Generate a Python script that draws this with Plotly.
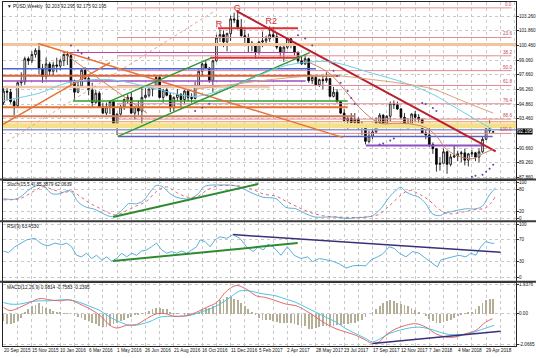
import numpy as np
import pandas as pd
import plotly.graph_objects as go

# ---------------- DATA ----------------
start_date = "2015-09-20"
n_weeks = 139

open_ = [95.0, 96.1, 96.0, 95.1, 94.7, 96.9, 97.0, 99.2, 99.0, 99.6,
         100.0, 98.3, 97.5, 98.7, 98.0, 98.6, 98.5, 99.0, 99.6, 99.5,
         97.0, 96.0, 96.6, 98.1, 97.3, 96.2, 95.0, 95.9, 94.6, 94.0,
         94.6, 95.1, 93.0, 93.9, 94.6, 95.3, 95.5, 94.0, 94.6, 94.2,
         95.5, 95.7, 96.3, 96.6, 97.4, 95.5, 96.2, 95.7, 94.5, 95.5,
         95.8, 95.3, 96.1, 95.5, 95.4, 96.6, 98.0, 98.7, 98.3, 97.1,
         99.0, 101.2, 101.5, 100.8, 101.6, 103.0, 102.9, 102.2, 101.4, 101.2,
         100.7, 100.6, 99.8, 100.8, 100.9, 101.1, 101.5, 101.3, 100.3, 99.8,
         100.3, 101.1, 100.5, 99.8, 99.0, 98.7, 99.2, 97.1, 97.4, 96.7,
         97.2, 97.1, 97.3, 95.6, 96.0, 95.1, 94.0, 93.3, 93.5, 93.1,
         93.4, 92.7, 92.8, 91.3, 91.8, 92.2, 93.1, 93.8, 93.0, 93.7,
         94.9, 94.8, 94.4, 93.6, 92.8, 92.9, 93.9, 93.6, 93.4, 92.1,
         91.9, 91.0, 90.6, 89.1, 89.2, 90.3, 89.1, 89.8, 89.9, 90.1,
         90.2, 89.5, 90.1, 90.2, 89.8, 90.3, 91.5, 92.5, 92.203]
high_ = [96.4, 96.6, 96.3, 95.3, 97.0, 97.9, 99.4, 99.4, 99.9, 100.2,
         100.5, 98.7, 99.3, 98.9, 98.9, 99.3, 99.2, 99.6, 99.9, 99.8,
         97.2, 97.1, 98.2, 98.4, 97.7, 96.9, 96.2, 96.1, 95.0, 95.0,
         95.2, 95.2, 94.0, 94.8, 95.4, 95.8, 96.0, 94.6, 95.2, 96.7,
         96.4, 96.6, 96.6, 97.6, 97.6, 96.3, 96.4, 96.0, 95.6, 96.3,
         95.9, 96.2, 96.2, 95.9, 97.0, 98.2, 98.8, 99.1, 98.4, 99.1,
         101.5, 102.0, 101.9, 101.7, 103.3, 103.6, 103.8, 103.0, 102.0, 101.6,
         100.9, 100.6, 100.9, 101.8, 101.4, 102.3, 102.2, 101.7, 100.4, 100.6,
         101.2, 101.2, 100.7, 99.9, 99.4, 99.6, 99.3, 97.6, 97.6, 97.3,
         97.6, 97.9, 97.3, 96.5, 96.3, 95.2, 94.4, 93.6, 94.0, 94.0,
         93.6, 93.2, 92.9, 92.3, 92.5, 93.6, 94.0, 93.9, 93.8, 95.1,
         95.2, 95.1, 94.5, 94.0, 93.5, 94.0, 94.2, 93.9, 93.5, 92.4,
         92.6, 91.2, 90.6, 89.8, 90.6, 90.4, 90.1, 90.9, 90.4, 90.4,
         90.6, 90.2, 90.5, 90.3, 90.6, 91.7, 92.8, 93.3, 92.295]
low_ = [94.8, 95.2, 94.9, 93.8, 94.6, 96.6, 96.7, 98.6, 98.8, 99.3,
        97.7, 96.9, 97.2, 97.6, 97.6, 97.9, 98.1, 98.5, 98.6, 96.6,
        95.2, 95.9, 96.5, 97.1, 95.7, 94.6, 94.9, 94.5, 93.9, 93.8,
        93.9, 92.9, 91.9, 93.6, 94.3, 94.9, 93.9, 93.4, 93.8, 93.0,
        95.4, 95.5, 95.6, 96.5, 95.4, 95.0, 95.6, 94.1, 94.2, 95.2,
        94.4, 94.9, 95.1, 95.0, 95.3, 96.5, 97.5, 98.2, 96.9, 96.0,
        98.9, 100.8, 100.3, 99.9, 100.9, 102.6, 102.0, 101.3, 100.6, 99.8,
        99.9, 99.2, 99.6, 100.3, 100.5, 100.8, 101.2, 100.1, 99.4, 98.9,
        100.1, 100.2, 99.5, 98.8, 98.6, 98.6, 96.9, 96.8, 96.6, 96.5,
        96.3, 96.9, 95.5, 95.5, 95.0, 93.9, 93.2, 92.5, 93.0, 92.8,
        92.5, 91.9, 91.0, 91.1, 91.5, 92.1, 92.8, 92.8, 92.8, 93.2,
        94.4, 94.3, 93.4, 92.6, 92.5, 92.8, 93.2, 93.1, 92.0, 91.5,
        90.8, 90.1, 88.4, 88.5, 89.2, 88.2, 88.9, 89.7, 89.4, 89.3,
        89.0, 88.9, 89.8, 89.4, 89.3, 90.2, 91.4, 92.1, 92.175]
close_ = [96.1, 96.0, 95.1, 94.7, 96.9, 97.0, 99.2, 99.0, 99.6, 100.0,
          98.3, 97.5, 98.7, 98.0, 98.6, 98.5, 99.0, 99.6, 99.5, 97.0,
          96.0, 96.6, 98.1, 97.3, 96.2, 95.0, 95.9, 94.6, 94.0, 94.6,
          95.1, 93.0, 93.9, 94.6, 95.3, 95.5, 94.0, 94.6, 94.2, 95.5,
          95.7, 96.3, 96.6, 97.4, 95.5, 96.2, 95.7, 94.5, 95.5, 95.8,
          95.3, 96.1, 95.5, 95.4, 96.6, 98.0, 98.7, 98.3, 97.1, 99.0,
          101.2, 101.5, 100.8, 101.6, 103.0, 102.9, 102.2, 101.4, 101.2, 100.7,
          100.6, 99.8, 100.8, 100.9, 101.1, 101.5, 101.3, 100.3, 99.8, 100.3,
          101.1, 100.5, 99.8, 99.0, 98.7, 99.2, 97.1, 97.4, 96.7, 97.2,
          97.1, 97.3, 95.6, 96.0, 95.1, 94.0, 93.3, 93.5, 93.1, 93.4,
          92.7, 92.8, 91.3, 91.8, 92.2, 93.1, 93.8, 93.0, 93.7, 94.9,
          94.8, 94.4, 93.6, 92.8, 92.9, 93.9, 93.6, 93.4, 92.1, 91.9,
          91.0, 90.6, 89.1, 89.2, 90.3, 89.1, 89.8, 89.9, 90.1, 90.2,
          89.5, 90.1, 90.2, 89.8, 90.3, 91.5, 92.5, 92.3, 92.195]

# moving averages on price chart
ma_cyan_dates = ["2015-09-20", "2015-11-29", "2016-01-24", "2016-04-17", "2016-07-10",
                 "2016-10-02", "2016-12-25", "2017-03-19", "2017-04-30", "2017-06-25",
                 "2017-09-17", "2017-11-19", "2018-01-14", "2018-02-25", "2018-04-01",
                 "2018-05-13"]
ma_cyan_vals = [95.2, 95.9, 96.9, 97.2, 96.4, 95.6, 96.8, 98.4, 98.8, 98.9,
                97.8, 96.9, 95.8, 94.6, 93.6, 92.4]
ma_tan_dates = ["2016-10-02", "2016-12-25", "2017-03-19", "2017-06-25", "2017-09-17",
                "2017-11-19", "2018-01-14", "2018-02-25", "2018-04-01", "2018-05-13"]
ma_tan_vals = [96.3, 96.8, 97.3, 97.6, 97.2, 96.8, 96.3, 95.5, 94.8, 94.0]
ma_mid_w = [86.3, 92.0, 96.8, 101.3, 106.1, 110.8, 115.4, 119.3, 122.1, 124.9,
            128.6, 132.3, 135.1, 137.9]
ma_mid_vals = [98.82, 97.76, 95.93, 94.19, 93.03, 93.03, 92.93, 92.55, 91.77, 90.52,
               89.84, 89.65, 90.13, 90.52]

# Parabolic SAR dots (week index, price)
sar_w = [19, 21, 22, 24, 54, 56, 58, 83, 85, 87, 93, 94, 95, 97, 98, 99,
         106, 107, 109, 110, 118, 119, 121, 122, 132, 133, 135, 136, 137, 138]
sar_p = [100.46, 99.98, 99.69, 99.30, 94.2, 94.5, 94.9, 101.43, 101.14, 100.46,
         98.05, 97.57, 96.89, 96.12, 95.44, 94.86, 91.0, 91.1, 91.39, 91.58,
         94.96, 94.86, 94.48, 94.19, 87.91, 88.01, 88.11, 88.40, 88.68, 89.07]

# Fibonacci retracement
fib_high = 104.06
fib_low = 92.06
fib_ratios = [0.0, 23.6, 38.2, 50.0, 61.8, 76.4, 88.6, 100.0]
fib_start = "2016-05-01"
fib_end = "2018-06-18"

# horizontal support / resistance lines
hl_price = [100.56, 99.79, 99.30, 102.10, 98.24, 97.57, 97.08, 96.50,
            95.15, 94.57, 93.70, 93.17, 92.79, 92.40, 91.77, 90.90]
hl_start = ["2015-09-19", "2016-01-15", "2016-11-01", "2016-11-16", "2015-09-19",
            "2015-09-19", "2015-09-19", "2015-09-19", "2016-02-04", "2015-09-19",
            "2015-09-19", "2015-09-19", "2015-09-19", "2015-09-19", "2016-05-03",
            "2017-09-04"]
hl_end = ["2018-06-27", "2017-04-26", "2017-04-26", "2017-04-23", "2017-05-28",
          "2017-07-15", "2017-05-08", "2017-02-26", "2017-07-30", "2017-07-30",
          "2017-08-13", "2018-06-27", "2018-06-27", "2018-06-27", "2018-05-12",
          "2018-04-23"]

# trend lines (date, price pairs)
tl_d0 = ["2016-12-23", "2015-11-27", "2015-09-19", "2016-01-15", "2016-05-03",
         "2016-04-17", "2015-09-27"]
tl_p0 = [103.74, 100.65, 92.93, 99.79, 91.77, 95.15, 91.29]
tl_d1 = ["2018-05-18", "2017-07-20", "2016-04-17", "2016-06-29", "2017-05-16",
         "2016-11-04", "2016-11-06"]
tl_p1 = [90.33, 91.68, 98.82, 93.99, 99.78, 99.30, 103.65]

# pattern labels
pat_text = ["G", "R", "R2"]
pat_dates = ["2016-12-24", "2016-11-18", "2017-03-01"]
pat_price = [104.0, 102.4, 102.7]

# Stochastic (week index, value)
stoch_w = [0, 2.8, 4.6, 7.5, 9.8, 11.7, 13.6, 15.9, 18.3, 19.2, 21.1, 23.4, 25.3, 27.2,
           30, 31.4, 33.8, 35.2, 37.5, 39.4, 41.7, 43.1, 45, 46.9, 48.8, 50.7, 52.5,
           54.9, 56.3, 57.7, 60.1, 62.9, 64.7, 66.6, 68.5, 70.4, 73.2, 76.8, 79.6,
           82.4, 85.2, 88, 90.8, 93.7, 96.5, 99.3, 102.1, 104, 106.3, 108.7, 110.6,
           112, 113.4, 115.3, 117.1, 119, 120.9, 122.8, 124.6, 127.5, 130.3, 133.1,
           135, 136.9, 138.7]
stoch_main = [55, 53, 59, 82, 92, 87, 69, 69, 78, 74, 45, 31, 27, 18,
              6, 8, 27, 41, 41, 50, 78, 92, 87, 69, 59, 55, 55,
              69, 87, 92, 93, 93, 92, 87, 78, 69, 59, 55, 31,
              27, 13, 4, 4, 4, 0, 2, 4, 8, 27, 59, 78,
              87, 74, 65, 59, 41, 13, 8, 15, 22, 27, 27,
              35, 65, 85.4]
stoch_sig_w = [0, 4.6, 8.4, 11.2, 14, 16.9, 19.2, 21.5, 24.4, 27.2, 30, 31.9, 34.7,
               37.5, 40.3, 43.1, 46, 48.8, 51.6, 54.4, 57.2, 60.1, 63.8, 66.6, 70.4,
               73.2, 76.8, 79.6, 83.3, 86.1, 89.9, 94.6, 99.3, 103, 105.9, 108.7, 112,
               114.3, 117.1, 120, 122.8, 125.6, 129.3, 133.1, 136, 138.7]
stoch_sig = [52, 55, 75, 88, 80, 72, 76, 62, 42, 28, 14, 10, 22,
             35, 48, 75, 88, 72, 60, 60, 78, 90, 92, 90, 80,
             68, 62, 48, 30, 18, 8, 4, 3, 5, 12, 35, 65,
             78, 68, 50, 25, 13, 18, 25, 30, 62]
stoch_tl_w = [30.9, 71.8]
stoch_tl_v = [4, 96]

# RSI
rsi_w = [0, 1.4, 3.2, 5.1, 6.5, 7.9, 8.9, 9.8, 11.2, 12.6, 14.5, 16.4, 17.8, 19.2,
         20.6, 22, 23.4, 24.8, 26.2, 27.7, 29.1, 30.5, 31.9, 33.3, 34.7, 36.1, 37.5,
         38.9, 40.3, 41.7, 43.1, 44.6, 46, 47.4, 48.8, 50.2, 51.6, 53, 54.4, 55.4,
         56.8, 58.2, 59.6, 61, 62.9, 64.7, 66.6, 68.5, 70.4, 71.8, 73.2, 74.5, 76,
         78.2, 80, 81.9, 83.8, 85.7, 87.1, 89, 90.8, 92.7, 94.6, 96.5, 98.4, 100.2,
         102.1, 103.5, 105.4, 106.8, 108.7, 110.1, 111.5, 113.4, 115.3, 117.1, 119,
         120.9, 122.3, 123.2, 124.6, 126.5, 128.4, 130.3, 131.7, 133.1, 134.5, 135.9,
         137.3, 138.3]
rsi_v = [49, 46, 57, 64, 70, 72, 73, 67, 61, 59, 64, 61, 64, 57,
         41, 38, 45, 35, 41, 32, 38, 30, 35, 45, 38, 45, 41,
         49, 51, 57, 64, 51, 45, 48, 45, 49, 45, 51, 57, 70,
         67, 57, 70, 76, 73, 80, 73, 57, 48, 57, 51, 62, 57,
         41, 57, 41, 35, 38, 29, 35, 32, 30, 25, 17, 21, 22,
         21, 32, 38, 43, 57, 54, 45, 38, 48, 45, 35,
         25, 19, 32, 35, 38, 41, 38, 45, 41, 57, 67,
         64, 63.45]
rsi_tl1_w = [30.9, 82.9]
rsi_tl1_v = [30, 64]
rsi_tl2_w = [64.7, 140.1]
rsi_tl2_v = [80, 46.5]

# MACD
macd_w = [0, 1.8, 4.6, 7.5, 10.3, 13.1, 15.9, 18.7, 21.5, 24.4, 27.2, 30, 31.9,
          34.7, 37.5, 40.3, 43.1, 46, 47.8, 51.6, 54.4, 57.2, 60.1, 62.9, 65.7,
          68.5, 71.3, 73.9, 76.8, 79.6, 82.4, 85.2, 88, 90.8, 93.7, 96.5, 99.3,
          102.1, 104, 105.9, 107.7, 110.6, 113.4, 116.2, 119, 121.8, 124.6, 127.5,
          130.3, 133.1, 135.9, 137.8]
macd_main = [0.40, 0.18, 0.40, 0.73, 0.99, 0.90, 0.84, 0.90, 0.62, 0.29, -0.15, -0.81,
             -0.99, -0.81, -0.75, -0.37, -0.04, -0.04, -0.20, -0.15, 0.07, 0.40, 0.73,
             1.50, 1.87, 1.61, 1.17, 1.06, 0.84, 0.62, 0.51, 0.18, -0.26, -0.70, -1.04,
             -1.26, -1.48, -1.81, -2.03, -1.92, -1.48, -1.04, -0.81, -0.70, -0.93, -1.37,
             -1.59, -1.59, -1.37, -1.15, -0.59, -0.37]
macd_sig_w = [0, 1.8, 4.6, 7.5, 10.3, 13.1, 15.9, 18.7, 21.5, 24.4, 27.2, 30, 32.8,
              35.6, 38.5, 41.3, 44.1, 46.9, 49.7, 52.5, 55.4, 58.2, 61, 63.8, 66.6,
              69.4, 72.3, 76.8, 79.6, 82.4, 85.2, 88, 90.8, 93.7, 96.5, 99.3, 102.1,
              104, 106.3, 108.7, 111.5, 114.3, 117.1, 119.9, 122.8, 125.6, 128.4, 131.2,
              134, 136.8, 138.3]
macd_sig = [0.73, 0.62, 0.62, 0.77, 0.84, 0.84, 0.90, 0.90, 0.73, 0.46, 0.18, -0.26,
            -0.59, -0.81, -0.75, -0.55, -0.26, -0.20, -0.20, -0.15, 0.07, 0.29, 0.62,
            1.06, 1.50, 1.50, 1.34, 1.17, 0.95, 0.73, 0.40, 0.07, -0.26, -0.59, -1.04,
            -1.37, -1.70, -1.92, -1.70, -1.37, -1.15, -0.99, -0.93, -1.04, -1.26, -1.43,
            -1.43, -1.37, -1.15, -0.93, -0.81]
macd_hist = [-0.5, -0.7, -0.7, -0.6, -0.5, -0.3, 0.1, 0.3, 0.5, 0.6,
             0.7, 0.5, 0.4, 0.3, 0.2, 0.15, 0.1, 0.05, 0.05, 0.0,
             -0.1, -0.2, -0.3, -0.4, -0.5, -0.6, -0.7, -0.8, -0.9, -0.9,
             -0.8, -0.7, -0.6, -0.5, -0.4, -0.3, -0.2, -0.1, -0.05, 0.05,
             0.1, 0.2, 0.3, 0.4, 0.4, 0.35, 0.3, 0.15, 0.05, 0.02,
             0.0, -0.02, -0.05, 0.0, 0.05, 0.15, 0.3, 0.4, 0.4, 0.55,
             0.7, 0.9, 1.0, 1.1, 1.1, 1.0, 0.9, 0.7, 0.5, 0.3,
             0.1, -0.1, -0.3, -0.4, -0.4, -0.45, -0.5, -0.55, -0.6, -0.6,
             -0.6, -0.65, -0.7, -0.75, -0.8, -0.85, -1.0, -1.0, -0.95, -0.9,
             -0.85, -0.85, -0.8, -0.8, -0.75, -0.75, -0.7, -0.7, -0.65, -0.6,
             -0.5, -0.4, -0.2, 0.0, 0.15, 0.35, 0.55, 0.75, 0.85, 0.9,
             0.85, 0.75, 0.65, 0.6, 0.5, 0.4, 0.25, 0.1, 0.0, -0.15,
             -0.35, -0.5, -0.6, -0.6, -0.55, -0.5, -0.4, -0.25, -0.15, -0.05,
             0.05, 0.1, 0.15, 0.3, 0.5, 0.75, 0.95, 1.0, 0.98]
macd_tl_w = [104, 140.1]
macd_tl_v = [-2.03, -1.21]

# axis labels
price_ticks = [87.86, 89.26, 90.66, 93.46, 94.86, 96.26, 97.66, 99.06,
               100.46, 101.86, 103.26]
price_grid = [87.86, 89.26, 90.66, 92.06, 93.46, 94.86, 96.26, 97.66, 99.06,
              100.46, 101.86, 103.26]
stoch_ticks = [0, 20, 80, 100]
rsi_ticks = [0, 30, 70, 100]
macd_ticks = [-2.0665, 0, 1.9376]
macd_tick_text = ["-2.0665", "0.00", "1.9376"]
x_label_text = ["20 Sep 2015", "15 Nov 2015", "10 Jan 2016", "6 Mar 2016", "1 May 2016",
                "26 Jun 2016", "21 Aug 2016", "16 Oct 2016", "11 Dec 2016", "5 Feb 2017",
                "2 Apr 2017", "28 May 2017", "23 Jul 2017", "17 Sep 2017", "12 Nov 2017",
                "7 Jan 2018", "4 Mar 2018", "29 Apr 2018"]
title_price = "\u25BC PUSD,Weekly  92.203 92.295 92.175 92.195"
title_stoch = "Stoch(15,5,4) 85.3879 62.0639"
title_rsi = "RSI(9) 63.4530"
title_macd = "MACD(12,26,9) 0.9814 -0.7583 -0.2395"
last_price = 92.195

# ---------------- BUILD ----------------
base = pd.Timestamp(start_date)
dates = pd.date_range(start_date, periods=n_weeks, freq="7D")


def wdate(ws):
    return base + pd.to_timedelta(np.array(ws, dtype=float) * 7, unit="D")


FONT = "Liberation Sans"
FONT_AX = "Liberation Sans Narrow, Liberation Sans"
FS = 4.7
FS_AX = 4.6
fig = go.Figure()

# horizontal lines
hl_style = [("#f4c49c", 3), ("#c040a0", 1), ("#e03030", 2), ("#e03030", 2),
            ("#4a66d8", 1.5), ("#e0603a", 2), ("#9a50c0", 1.5), ("#f0c8b0", 2.5),
            ("#30a030", 1.5), ("#e87030", 2), ("#d07a5a", 2), ("#f09050", 1),
            ("#f5e08a", 5), ("#8c9ad8", 1.5), ("#6060c0", 1.5), ("#9050c0", 2)]
for p, s, e, (c, w) in zip(hl_price, hl_start, hl_end, hl_style):
    fig.add_trace(go.Scatter(x=[s, e], y=[p, p], mode="lines",
                             line=dict(color=c, width=w), xaxis="x", yaxis="y",
                             hoverinfo="skip", showlegend=False))

# fib lines
for r in fib_ratios:
    lvl = fib_high - (fib_high - fib_low) * r / 100.0
    fig.add_trace(go.Scatter(x=[fib_start, fib_end], y=[lvl, lvl], mode="lines",
                             line=dict(color="#e38a96", width=1), xaxis="x", yaxis="y",
                             hoverinfo="skip", showlegend=False))

# trend lines
tl_style = [("#b8202e", 2, "solid"), ("#e57335", 1.5, "solid"), ("#e57335", 1.5, "solid"),
            ("#d9804a", 1, "solid"), ("#2f9a2f", 1.5, "solid"), ("#2f9a2f", 1.5, "solid"),
            ("#e8a090", 1, "dot")]
for d0, p0, d1, p1, (c, w, ds) in zip(tl_d0, tl_p0, tl_d1, tl_p1, tl_style):
    fig.add_trace(go.Scatter(x=[d0, d1], y=[p0, p1], mode="lines",
                             line=dict(color=c, width=w, dash=ds), xaxis="x", yaxis="y",
                             hoverinfo="skip", showlegend=False))

# moving averages
fig.add_trace(go.Scatter(x=ma_cyan_dates, y=ma_cyan_vals, mode="lines",
                         line=dict(color="#6fd0e4", width=1, shape="spline"),
                         xaxis="x", yaxis="y", hoverinfo="skip", showlegend=False))
fig.add_trace(go.Scatter(x=ma_tan_dates, y=ma_tan_vals, mode="lines",
                         line=dict(color="#d9a47a", width=1, shape="spline"),
                         xaxis="x", yaxis="y", hoverinfo="skip", showlegend=False))
fig.add_trace(go.Scatter(x=wdate(ma_mid_w), y=ma_mid_vals, mode="lines",
                         line=dict(color="#c9836a", width=1, shape="spline"),
                         xaxis="x", yaxis="y", hoverinfo="skip", showlegend=False))

# parabolic SAR
fig.add_trace(go.Scatter(x=wdate(sar_w), y=sar_p, mode="markers",
                         marker=dict(color="#6a3fa0", size=2, line=dict(width=0)),
                         xaxis="x", yaxis="y", hoverinfo="skip", showlegend=False))

# candles
fig.add_trace(go.Candlestick(x=dates, open=open_, high=high_, low=low_, close=close_,
                             increasing=dict(line=dict(color="#000000", width=0.8),
                                             fillcolor="#ffffff"),
                             decreasing=dict(line=dict(color="#000000", width=0.8),
                                             fillcolor="#000000"),
                             xaxis="x", yaxis="y", hoverinfo="skip", showlegend=False))

# pattern labels
fig.add_trace(go.Scatter(x=pat_dates, y=pat_price, mode="text", text=pat_text,
                         textfont=dict(color="#d42a2a", size=9, family=FONT),
                         xaxis="x", yaxis="y", hoverinfo="skip", showlegend=False))

# Stochastic
fig.add_trace(go.Scatter(x=wdate(stoch_w), y=stoch_main, mode="lines",
                         line=dict(color="#5ab0da", width=1, shape="spline"),
                         xaxis="x2", yaxis="y2", hoverinfo="skip", showlegend=False))
fig.add_trace(go.Scatter(x=wdate(stoch_sig_w), y=stoch_sig, mode="lines",
                         line=dict(color="#e06a6a", width=1, dash="dot", shape="spline"),
                         xaxis="x2", yaxis="y2", hoverinfo="skip", showlegend=False))
fig.add_trace(go.Scatter(x=wdate(stoch_tl_w), y=stoch_tl_v, mode="lines",
                         line=dict(color="#2f8a2f", width=2),
                         xaxis="x2", yaxis="y2", hoverinfo="skip", showlegend=False))

# RSI
fig.add_trace(go.Scatter(x=wdate(rsi_w), y=rsi_v, mode="lines",
                         line=dict(color="#5ab0da", width=1),
                         xaxis="x3", yaxis="y3", hoverinfo="skip", showlegend=False))
fig.add_trace(go.Scatter(x=wdate(rsi_tl1_w), y=rsi_tl1_v, mode="lines",
                         line=dict(color="#2f8a2f", width=2),
                         xaxis="x3", yaxis="y3", hoverinfo="skip", showlegend=False))
fig.add_trace(go.Scatter(x=wdate(rsi_tl2_w), y=rsi_tl2_v, mode="lines",
                         line=dict(color="#3b2f7a", width=1.5),
                         xaxis="x3", yaxis="y3", hoverinfo="skip", showlegend=False))

# MACD
fig.add_trace(go.Bar(x=dates, y=macd_hist, marker=dict(color="#b4ae96", line=dict(width=0)),
                     width=1.6 * 86400000, xaxis="x4", yaxis="y4",
                     hoverinfo="skip", showlegend=False))
fig.add_trace(go.Scatter(x=wdate(macd_sig_w), y=macd_sig, mode="lines",
                         line=dict(color="#4cc4e4", width=1, shape="spline"),
                         xaxis="x4", yaxis="y4", hoverinfo="skip", showlegend=False))
fig.add_trace(go.Scatter(x=wdate(macd_w), y=macd_main, mode="lines",
                         line=dict(color="#e06a6a", width=1, shape="spline"),
                         xaxis="x4", yaxis="y4", hoverinfo="skip", showlegend=False))
fig.add_trace(go.Scatter(x=wdate(macd_tl_w), y=macd_tl_v, mode="lines",
                         line=dict(color="#3b2f7a", width=1.5),
                         xaxis="x4", yaxis="y4", hoverinfo="skip", showlegend=False))

# ---------------- LAYOUT ----------------
x_range = ["2015-09-19", "2018-06-27"]
H_TOP, H_BOT = 2, 12
PH = 358 - H_TOP - H_BOT


def dom(py0, py1):
    return [(358 - H_BOT - py1) / PH, (358 - H_BOT - py0) / PH]


grid = dict(showgrid=True, gridcolor="#c9c9c9", griddash="dot", gridwidth=1)
xcommon = dict(type="date", range=x_range, tick0="2015-09-20", dtick=28 * 86400000,
               showticklabels=False, ticks="", showline=True, mirror=True,
               linecolor="#222222", linewidth=1, zeroline=False, **grid)
ycommon = dict(side="right", showline=True, mirror=True, linecolor="#222222",
               linewidth=1, ticks="outside", ticklen=2, tickcolor="#333",
               showticklabels=False, zeroline=False, **grid)

fig.update_layout(
    width=536, height=358,
    margin=dict(l=3, r=20, t=H_TOP, b=H_BOT),
    paper_bgcolor="#ffffff", plot_bgcolor="#ffffff",
    showlegend=False, bargap=0,
    xaxis=dict(anchor="y", domain=[0, 1], rangeslider=dict(visible=False), **xcommon),
    xaxis2=dict(anchor="y2", domain=[0, 1], matches="x", **xcommon),
    xaxis3=dict(anchor="y3", domain=[0, 1], matches="x", **xcommon),
    xaxis4=dict(anchor="y4", domain=[0, 1], matches="x", **xcommon),
    yaxis=dict(anchor="x", domain=dom(2, 179), range=[87.70, 104.62],
               tickvals=price_grid, **ycommon),
    yaxis2=dict(anchor="x2", domain=dom(180.5, 220.5), range=[-5.5, 105.5],
                tickvals=stoch_ticks, **ycommon),
    yaxis3=dict(anchor="x3", domain=dom(222, 281), range=[-7.5, 103.8],
                tickvals=rsi_ticks, **ycommon),
    yaxis4=dict(anchor="x4", domain=dom(282.5, 346), range=[-2.2, 2.07],
                tickvals=macd_ticks, **ycommon),
)

ann = []
axfont = dict(size=FS_AX, family=FONT_AX, color="#111")
txtfont = dict(size=FS, family=FONT_AX, color="#111")


def ylab(yref, v, txt):
    ann.append(dict(x=1, y=v, xref="paper", yref=yref, text=txt, showarrow=False,
                    xanchor="left", yanchor="middle", xshift=2, borderpad=0,
                    font=axfont))


for v in price_ticks:
    ylab("y", v, "%.3f" % v)
for v in stoch_ticks:
    ylab("y2", v, str(v))
for v in rsi_ticks:
    ylab("y3", v, str(v))
for v, t in zip(macd_ticks, macd_tick_text):
    ylab("y4", v, t)

# fib labels
for r in fib_ratios:
    lvl = fib_high - (fib_high - fib_low) * r / 100.0
    ann.append(dict(x=x_range[1], y=lvl, xref="x", yref="y", text="%.1f" % r,
                    showarrow=False, xanchor="right", yanchor="bottom", xshift=-3,
                    borderpad=0, font=dict(size=FS_AX, family=FONT_AX, color="#c04a5a")))
# titles
for txt, yref, yv in [(title_price, "y", 104.62), (title_stoch, "y2", 105.5),
                      (title_rsi, "y3", 103.8), (title_macd, "y4", 2.07)]:
    ann.append(dict(x=0, y=yv, xref="paper", yref=yref, text=txt, showarrow=False,
                    xanchor="left", yanchor="top", xshift=3, yshift=-1, borderpad=0,
                    font=txtfont))
# current price box
ann.append(dict(x=1, y=last_price, xref="paper", yref="y", text="%.3f" % last_price,
                showarrow=False, xanchor="left", yanchor="middle", xshift=1,
                bgcolor="#000000", borderpad=0,
                font=dict(size=FS_AX, family=FONT_AX, color="#ffffff")))
# date labels
for t in x_label_text:
    d = pd.to_datetime(t, format="%d %b %Y")
    ann.append(dict(x=d, y=0, xref="x4", yref="paper", text=t, showarrow=False,
                    xanchor="left", yanchor="top", xshift=-1, yshift=-1, borderpad=0,
                    font=txtfont))
fig.update_layout(annotations=ann)

# panel separators
shapes = []
for py in [179.5, 221.2, 281.7]:
    yp = (358 - H_BOT - py) / PH
    shapes.append(dict(type="line", xref="paper", yref="paper", x0=-0.006, x1=1.04,
                       y0=yp, y1=yp, line=dict(color="#3a3a3a", width=2)))
fig.update_layout(shapes=shapes)

fig.write_html("out.html", config={"displayModeBar": False},
               post_script="document.body.style.margin='0px';"
                           "document.body.style.overflow='hidden';")
